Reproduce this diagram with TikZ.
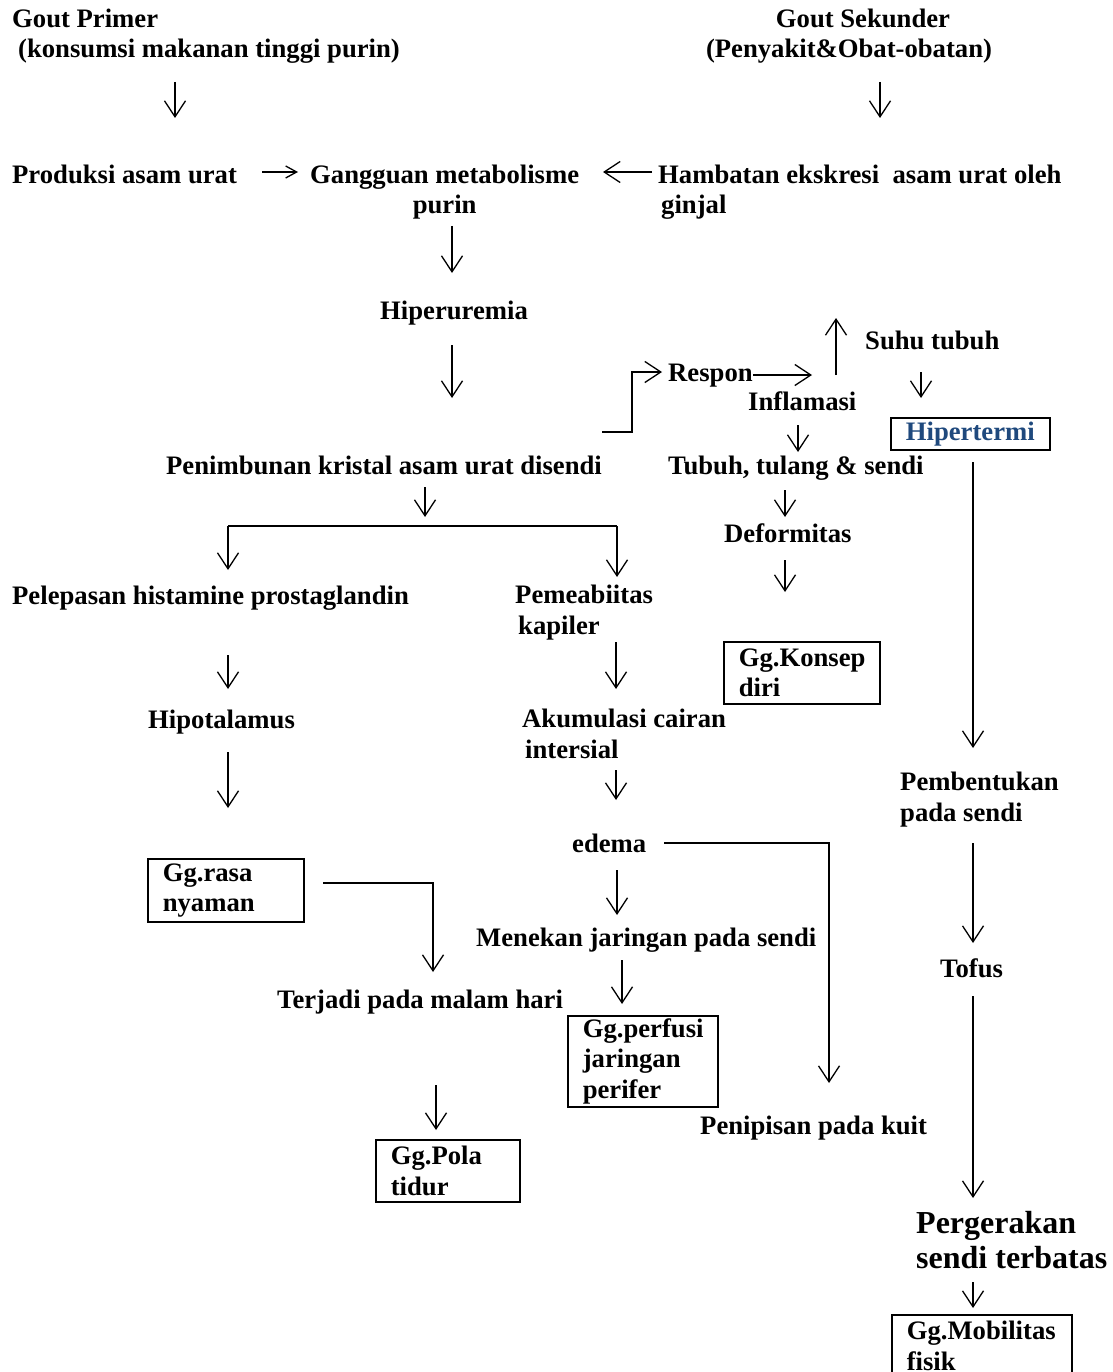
\documentclass[tikz,border=0pt]{standalone}
\usepackage{fontspec}
\setmainfont{Liberation Serif}
\usetikzlibrary{arrows.meta}
\definecolor{hblue}{RGB}{31,73,125}
\begin{document}
\begin{tikzpicture}[x=1pt,y=-1pt,
  txt/.style={font=\fontsize{26.67}{30.5}\selectfont\bfseries, inner sep=0pt, anchor=base west, align=left},
  bigtxt/.style={font=\fontsize{32}{35}\selectfont\bfseries, inner sep=0pt, anchor=base west, align=left},
  box/.style={draw, line width=1.6pt, font=\fontsize{26.67}{30.5}\selectfont\bfseries, inner xsep=15pt, inner ysep=0pt, anchor=north west, align=left},
  arr/.style={line width=1.3pt, -{Straight Barb[length=16pt,width=21pt,line width=1.3pt]}},
  sarr/.style={line width=1.3pt, -{Straight Barb[length=11pt,width=12pt,line width=1.3pt]}},
  ln/.style={line width=1.5pt}]
\useasboundingbox (0,0) rectangle (1112,1372);

% ---------- text nodes (multi-line nodes: base = last line) ----------
\node[txt] (primer) at (12,58) {Gout Primer\\\hspace*{6pt}(konsumsi makanan tinggi purin)};
\node[txt, anchor=base, align=center] (sekunder) at (849,58) {\hspace*{28pt}Gout Sekunder\\(Penyakit\&Obat-obatan)};
\node[txt] (produksi) at (12,184) {Produksi asam urat};
\node[txt, align=center] (gangguan) at (310,214) {Gangguan metabolisme\\purin};
\node[txt] (hambatan) at (658,214) {Hambatan ekskresi\ \ asam urat oleh\\\hspace*{3pt}ginjal};
\node[txt] (hiperuremia) at (380,319) {Hiperuremia};
\node[txt] (penimbunan) at (166,474) {Penimbunan kristal asam urat disendi};
\node[txt] (respon) at (668,381) {Respon};
\node[txt] (inflamasi) at (748,410) {Inflamasi};
\node[txt] (suhu) at (865,349) {Suhu tubuh};
\node[box, inner xsep=0pt, minimum width=159pt, minimum height=32pt, align=center, text=hblue] (hipertermi) at (890,417) {Hipertermi};
\node[txt] (tubuh) at (668,474) {Tubuh, tulang \& sendi};
\node[txt] (deformitas) at (724,542) {Deformitas};
\node[box, text width=126pt, minimum height=62pt] (konsep) at (723,641) {Gg.Konsep\\diri};
\node[txt] (pembentukan) at (900,821) {Pembentukan\\pada sendi};
\node[txt] (tofus) at (940,977) {Tofus};
\node[bigtxt] (pergerakan) at (916,1268) {Pergerakan\\sendi terbatas};
\node[box, text width=150pt, minimum height=62pt] (mobilitas) at (891,1314) {Gg.Mobilitas\\fisik};
\node[txt] (pelepasan) at (12,604) {Pelepasan histamine prostaglandin};
\node[txt] (pemeabiitas) at (515,634) {Pemeabiitas\\\hspace*{3pt}kapiler};
\node[txt] (hipotalamus) at (148,728) {Hipotalamus};
\node[box, text width=126pt, minimum height=63pt] (rasa) at (147,858) {Gg.rasa\\nyaman};
\node[txt] (akumulasi) at (522,758) {Akumulasi cairan\\\hspace*{3pt}intersial};
\node[txt] (edema) at (572,852) {edema};
\node[txt] (menekan) at (476,946) {Menekan jaringan pada sendi};
\node[box, text width=120pt, minimum height=91pt] (perfusi) at (567,1015) {Gg.perfusi\\jaringan\\perifer};
\node[txt] (penipisan) at (700,1134) {Penipisan pada kuit};
\node[txt] (terjadi) at (277,1008) {Terjadi pada malam hari};
\node[box, text width=114pt, minimum height=62pt] (pola) at (375,1139) {Gg.Pola\\tidur};

% ---------- connector end points ----------
\coordinate (a1s) at (175,82);   \coordinate (a1e) at (175,118);
\coordinate (a2s) at (880,82);   \coordinate (a2e) at (880,118);
\coordinate (a3s) at (262,172);  \coordinate (a3e) at (298,172);
\coordinate (a4s) at (652,172);  \coordinate (a4e) at (603,172);
\coordinate (a5s) at (452,226);  \coordinate (a5e) at (452,273);
\coordinate (a6s) at (452,345);  \coordinate (a6e) at (452,398);
\coordinate (e1s) at (602,432);  \coordinate (e1m) at (632,432); \coordinate (e1n) at (632,372); \coordinate (e1e) at (662,372);
\coordinate (a7s) at (753,375);  \coordinate (a7e) at (812,375);
\coordinate (a8s) at (836,375);  \coordinate (a8e) at (836,318);
\coordinate (a9s) at (921,372);  \coordinate (a9e) at (921,398);
\coordinate (a10s) at (798,425); \coordinate (a10e) at (798,452);
\coordinate (a11s) at (785,490); \coordinate (a11e) at (785,517);
\coordinate (a12s) at (785,560); \coordinate (a12e) at (785,592);
\coordinate (a13s) at (973,462); \coordinate (a13e) at (973,748);
\coordinate (a14s) at (973,843); \coordinate (a14e) at (973,943);
\coordinate (a15s) at (973,996); \coordinate (a15e) at (973,1198);
\coordinate (a16s) at (973,1282); \coordinate (a16e) at (973,1308);
\coordinate (a17s) at (425,487); \coordinate (a17e) at (425,517);
\coordinate (brl) at (228,526);  \coordinate (brr) at (617,526);
\coordinate (brle) at (228,570); \coordinate (brre) at (617,577);
\coordinate (a19s) at (228,655); \coordinate (a19e) at (228,689);
\coordinate (a20s) at (228,752); \coordinate (a20e) at (228,808);
\coordinate (a21s) at (616,642); \coordinate (a21e) at (616,689);
\coordinate (a22s) at (616,770); \coordinate (a22e) at (616,800);
\coordinate (e2s) at (664,843);  \coordinate (e2m) at (829,843); \coordinate (e2e) at (829,1083);
\coordinate (a23s) at (617,870); \coordinate (a23e) at (617,915);
\coordinate (a24s) at (622,960); \coordinate (a24e) at (622,1004);
\coordinate (e3s) at (323,883);  \coordinate (e3m) at (433,883); \coordinate (e3e) at (433,972);
\coordinate (a25s) at (436,1085); \coordinate (a25e) at (436,1130);

% ---------- connectors ----------
\draw[arr] (a1s) -- (a1e);
\draw[arr] (a2s) -- (a2e);
\draw[sarr] (a3s) -- (a3e);
\draw[arr] (a4s) -- (a4e);
\draw[arr] (a5s) -- (a5e);
\draw[arr] (a6s) -- (a6e);
\draw[arr] (e1s) -- (e1m) -- (e1n) -- (e1e);
\draw[arr] (a7s) -- (a7e);
\draw[arr] (a8s) -- (a8e);
\draw[arr] (a9s) -- (a9e);
\draw[arr] (a10s) -- (a10e);
\draw[arr] (a11s) -- (a11e);
\draw[arr] (a12s) -- (a12e);
\draw[arr] (a13s) -- (a13e);
\draw[arr] (a14s) -- (a14e);
\draw[arr] (a15s) -- (a15e);
\draw[arr] (a16s) -- (a16e);
\draw[arr] (a17s) -- (a17e);
\draw[ln] (brl) -- (brr);
\draw[arr] (brl) -- (brle);
\draw[arr] (brr) -- (brre);
\draw[arr] (a19s) -- (a19e);
\draw[arr] (a20s) -- (a20e);
\draw[arr] (a21s) -- (a21e);
\draw[arr] (a22s) -- (a22e);
\draw[arr] (e2s) -- (e2m) -- (e2e);
\draw[arr] (a23s) -- (a23e);
\draw[arr] (a24s) -- (a24e);
\draw[arr] (e3s) -- (e3m) -- (e3e);
\draw[arr] (a25s) -- (a25e);
\end{tikzpicture}
\end{document}
